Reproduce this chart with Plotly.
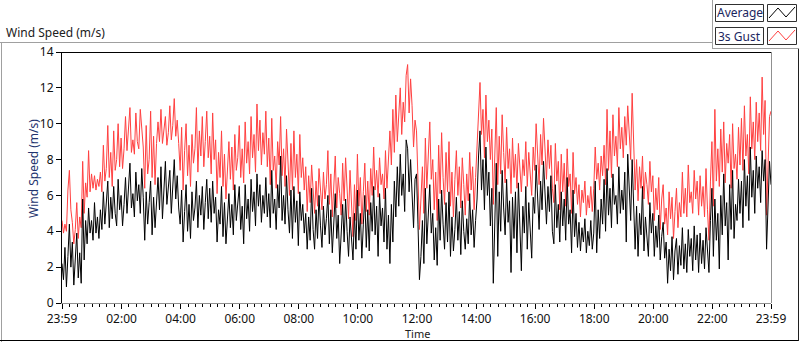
import plotly.graph_objects as go

# 3s gust (m/s), 3-minute samples starting at 23:59 (one row per hour)
gust = [
    4.6, 3.9, 4.4, 4.0, 6.3, 7.4, 5.2, 4.5, 3.3, 4.1, 5.6, 3.6, 4.8, 4.2, 7.9, 5.0, 6.7, 5.9, 8.5, 6.2,
    7.2, 6.4, 7.1, 6.3, 6.9, 6.5, 7.3, 6.2, 8.8, 6.8, 7.5, 9.9, 7.0, 8.4, 6.5, 9.6, 7.4, 8.0, 10.0, 7.6,
    9.2, 7.5, 8.6, 10.4, 8.5, 9.6, 10.9, 8.4, 9.1, 8.3, 10.6, 9.0, 8.6, 10.8, 9.4, 8.7, 6.4, 9.9, 7.2, 8.0,
    10.7, 7.0, 9.3, 6.6, 8.9, 10.1, 9.0, 10.8, 8.9, 9.6, 10.4, 8.8, 9.5, 11.0, 9.1, 9.9, 11.4, 9.3, 10.2, 8.9,
    7.4, 9.8, 6.3, 8.5, 10.0, 7.1, 8.8, 6.5, 9.4, 7.8, 8.6, 10.9, 7.3, 9.6, 8.2, 10.4, 7.6, 9.0, 10.7, 8.1,
    9.3, 7.2, 10.6, 8.0, 9.1, 6.1, 8.4, 7.0, 9.6, 6.5, 8.3, 5.8, 7.6, 9.0, 6.9, 8.7, 6.3, 9.4, 7.4, 8.1,
    9.9, 7.0, 8.6, 6.7, 10.1, 7.8, 9.0, 7.2, 10.4, 8.1, 9.4, 7.3, 11.1, 8.5, 10.2, 7.7, 9.5, 8.3, 10.7, 7.6,
    9.2, 6.6, 10.3, 7.4, 8.2, 6.4, 9.0, 7.7, 10.4, 7.1, 8.6, 6.5, 9.7, 7.3, 6.0, 8.9, 6.3, 9.6, 7.0, 8.3,
    6.1, 9.4, 7.0, 8.1, 6.3, 7.6, 5.1, 7.1, 5.6, 7.7, 6.0, 5.0, 6.8, 5.4, 7.5, 6.2, 5.2, 7.3, 5.8, 6.6,
    8.5, 5.5, 7.2, 4.8, 6.6, 8.2, 5.3, 7.0, 6.1, 4.9, 7.8, 5.7, 8.1, 6.3, 4.7, 7.4, 5.2, 3.7, 6.6, 4.6,
    8.3, 5.4, 7.0, 4.4, 6.2, 7.8, 5.1, 6.8, 4.9, 7.5, 6.0, 8.7, 6.3, 7.4, 5.9, 8.1, 6.6, 7.2, 5.8, 8.5,
    6.4, 7.8, 9.6, 7.7, 10.8, 8.4, 11.6, 9.0, 10.3, 12.0, 9.4, 11.2, 10.1, 12.7, 13.3, 10.6, 12.5, 11.0, 8.7, 10.2,
    9.6, 7.2, 4.1, 5.8, 7.6, 5.0, 9.2, 6.4, 8.5, 10.1, 6.9, 8.0, 5.2, 7.3, 4.6, 8.8, 6.1, 9.5, 7.0, 5.5,
    8.4, 6.2, 9.0, 5.4, 7.3, 4.8, 6.9, 8.5, 6.0, 7.6, 5.3, 8.1, 6.6, 4.9, 7.2, 5.7, 8.4, 6.3, 7.6, 5.2,
    7.0, 8.6, 11.0, 12.3, 9.4, 10.8, 8.1, 11.6, 9.0, 10.2, 8.0, 9.7, 5.5, 7.8, 10.9, 6.6, 9.3, 7.2, 10.5, 8.4,
    6.7, 9.8, 7.5, 8.6, 6.1, 9.2, 7.0, 8.3, 6.4, 8.9, 7.6, 6.2, 8.0, 7.1, 9.0, 6.5, 8.4, 7.3, 6.0, 8.7,
    7.4, 10.0, 8.1, 6.6, 9.4, 7.7, 10.3, 8.3, 6.9, 9.1, 7.5, 8.8, 6.4, 5.6, 8.9, 6.8, 7.9, 5.2, 8.3, 6.2,
    7.8, 5.4, 8.6, 6.5, 7.2, 5.0, 8.4, 6.1, 7.0, 5.5, 6.6, 4.8, 6.3, 5.6, 6.8, 4.9, 6.0, 5.3, 6.5, 5.1,
    6.4, 8.7, 6.9, 7.8, 6.3, 8.2, 7.1, 8.8, 6.6, 10.8, 7.4, 9.6, 7.0, 10.5, 8.2, 9.3, 7.6, 10.9, 8.6, 9.8,
    8.1, 10.4, 8.8, 11.0, 9.2, 8.0, 11.7, 9.5, 6.3, 8.0, 5.7, 7.6, 6.4, 8.2, 5.8, 7.3, 6.6, 5.5, 7.9, 6.2,
    7.1, 4.6, 6.4, 5.2, 7.0, 4.1, 5.8, 6.6, 4.4, 5.3, 3.8, 6.2, 4.7, 5.9, 3.6, 5.1, 6.4, 4.2, 5.6, 4.8,
    7.3, 5.0, 6.4, 4.8, 7.7, 5.6, 6.2, 5.0, 7.4, 5.8, 6.8, 4.9, 7.1, 5.4, 6.5, 4.8, 7.5, 5.2, 3.5, 6.8,
    9.0, 5.4, 10.8, 6.8, 8.6, 6.5, 9.7, 7.3, 10.1, 6.7, 8.9, 7.8, 9.4, 6.4, 10.0, 7.5, 8.3, 6.9, 9.8, 7.7,
    10.3, 7.4, 11.0, 8.2, 9.4, 7.2, 11.5, 8.6, 10.1, 8.0, 11.2, 9.0, 10.6, 8.5, 12.6, 9.4, 11.3, 4.9, 8.2, 10.4,
    10.7,
]

# average wind speed (m/s), same sampling
average = [
    2.2, 1.3, 3.1, 0.9, 2.6, 4.4, 2.0, 3.4, 1.0, 2.3, 3.9, 1.4, 2.8, 1.1, 5.8, 2.4, 4.6, 3.3, 5.3, 3.9,
    4.6, 3.5, 5.6, 3.9, 4.8, 3.6, 5.2, 4.1, 6.2, 4.4, 5.6, 6.8, 4.2, 5.9, 4.7, 6.5, 5.0, 4.3, 6.9, 5.2,
    6.0, 4.3, 5.5, 7.0, 5.0, 6.4, 7.8, 5.3, 6.1, 4.8, 7.3, 5.7, 6.6, 5.0, 7.5, 5.9, 3.5, 6.2, 4.4, 5.6,
    6.8, 3.8, 5.9, 4.2, 5.4, 7.0, 5.2, 7.6, 4.7, 6.3, 7.9, 5.5, 6.4, 7.4, 5.0, 6.7, 8.0, 5.8, 7.1, 5.3,
    4.4, 6.3, 3.4, 5.1, 6.6, 4.0, 5.5, 3.6, 6.2, 4.6, 5.3, 6.8, 4.2, 6.0, 4.9, 6.5, 4.1, 5.6, 6.9, 4.7,
    6.4, 4.5, 6.8, 5.0, 5.9, 3.4, 5.2, 4.4, 6.5, 3.7, 5.6, 3.3, 4.8, 6.1, 4.2, 5.5, 3.8, 6.6, 4.6, 5.4,
    6.5, 4.1, 5.4, 3.3, 6.6, 4.7, 5.8, 4.0, 6.9, 5.1, 6.2, 4.3, 7.2, 5.4, 6.6, 4.5, 6.0, 5.0, 7.0, 4.8,
    6.1, 4.2, 7.4, 5.0, 5.8, 4.1, 6.6, 5.3, 8.2, 4.6, 6.0, 4.4, 7.1, 5.2, 3.9, 6.3, 3.6, 6.5, 4.5, 5.7,
    3.2, 6.2, 4.6, 5.5, 3.9, 5.0, 3.0, 4.8, 3.5, 6.4, 4.1, 3.0, 5.2, 3.6, 6.0, 4.3, 3.1, 5.4, 3.8, 4.7,
    6.0, 3.3, 5.2, 2.8, 4.5, 6.1, 3.6, 4.9, 2.2, 4.1, 5.5, 3.4, 5.8, 4.0, 2.6, 4.8, 3.2, 2.4, 5.0, 3.0,
    6.3, 3.5, 5.0, 2.5, 4.4, 6.0, 3.1, 5.2, 2.9, 5.6, 4.0, 6.5, 3.8, 5.4, 2.6, 6.1, 4.3, 5.3, 3.4, 6.4,
    3.0, 4.9, 2.2, 5.5, 3.4, 6.8, 4.8, 7.6, 5.4, 8.3, 6.0, 7.2, 5.1, 9.1, 8.6, 6.2, 8.0, 5.8, 4.2, 6.9,
    7.2, 4.4, 1.3, 2.6, 4.6, 2.2, 6.4, 3.3, 5.5, 6.6, 3.9, 5.0, 2.4, 4.2, 2.1, 5.8, 3.5, 6.3, 4.4, 3.0,
    5.6, 3.4, 6.2, 2.6, 4.8, 2.9, 4.1, 5.9, 3.5, 5.1, 2.7, 5.7, 4.0, 3.0, 4.7, 3.3, 6.1, 3.8, 5.2, 3.1,
    4.6, 5.8, 8.2, 9.6, 6.3, 8.0, 5.2, 8.7, 6.0, 7.3, 4.3, 6.4, 1.1, 3.9, 7.8, 2.6, 6.2, 4.0, 7.4, 5.3,
    3.8, 6.9, 4.5, 5.7, 1.7, 5.9, 3.6, 6.2, 2.8, 6.7, 4.4, 1.8, 5.4, 3.9, 6.5, 3.0, 5.6, 4.3, 2.5, 5.9,
    5.0, 7.7, 5.6, 4.1, 6.8, 5.2, 7.9, 5.8, 4.4, 6.5, 5.1, 7.1, 4.0, 3.3, 6.6, 4.2, 5.5, 3.4, 6.2, 4.3,
    5.8, 3.5, 7.0, 4.4, 5.2, 2.8, 6.3, 3.7, 5.0, 3.1, 4.5, 2.9, 4.2, 3.4, 4.7, 2.8, 4.0, 3.2, 4.6, 3.0,
    3.9, 6.8, 2.8, 5.2, 3.6, 5.8, 4.4, 6.9, 4.0, 7.5, 4.9, 6.4, 4.2, 7.2, 5.5, 6.0, 4.4, 7.6, 5.0, 6.3,
    5.2, 7.3, 3.4, 8.3, 6.0, 4.6, 8.0, 5.9, 3.0, 5.4, 2.6, 5.0, 3.8, 6.5, 2.9, 4.8, 3.6, 2.6, 5.6, 3.9,
    5.0, 2.6, 4.3, 3.1, 4.9, 2.4, 3.7, 4.5, 2.5, 3.4, 1.1, 3.0, 1.8, 3.7, 1.3, 2.9, 3.6, 1.6, 3.2, 2.1,
    4.2, 1.9, 3.3, 1.7, 4.1, 2.6, 3.6, 1.8, 4.3, 2.4, 3.8, 1.7, 3.9, 2.2, 3.5, 1.9, 4.2, 2.8, 1.7, 4.6,
    6.4, 2.6, 5.8, 3.5, 5.0, 1.9, 6.0, 3.8, 7.2, 4.3, 5.6, 2.4, 6.6, 4.1, 7.4, 3.6, 5.5, 4.6, 6.9, 5.0,
    6.8, 4.2, 8.0, 5.4, 7.1, 4.6, 8.7, 5.9, 7.4, 5.0, 8.2, 6.4, 7.6, 5.6, 8.5, 6.8, 8.0, 3.0, 5.9, 7.9,
    6.6,
]

tick_vals = [0, 121, 241, 361, 481, 601, 721, 841, 961, 1081, 1201, 1321, 1440]
tick_text = ["23:59", "02:00", "04:00", "06:00", "08:00", "10:00", "12:00",
             "14:00", "16:00", "18:00", "20:00", "22:00", "23:59"]
y_ticks = [0, 2, 4, 6, 8, 10, 12, 14]

gust_t = [3 * i for i in range(len(gust))]
avg_t = [3 * i for i in range(len(average))]

W, H = 800, 342
L, R, T, B = 62, 771, 52, 303  # plot-area pixel box


def px(x):
    return (x - L) / (R - L)


def py(y):
    return (B - y) / (B - T)


FONT = "Noto Sans"
RED = "#ff4040"

fig = go.Figure()
fig.add_trace(go.Scatter(x=gust_t, y=gust, mode="lines", name="3s Gust",
                         line=dict(color=RED, width=1)))
fig.add_trace(go.Scatter(x=avg_t, y=average, mode="lines", name="Average",
                         line=dict(color="#000000", width=1)))

shapes = []


def line(x0, y0, x1, y1, color, width=1):
    shapes.append(dict(type="line", xref="paper", yref="paper",
                       x0=px(x0), y0=py(y0), x1=px(x1), y1=py(y1),
                       line=dict(color=color, width=width)))


def rect(x0, y0, x1, y1, color, width=1):
    shapes.append(dict(type="rect", xref="paper", yref="paper",
                       x0=px(x0), y0=py(y0), x1=px(x1), y1=py(y1),
                       line=dict(color=color, width=width), fillcolor="white"))


def zig(pts, color):
    d = "M " + " L ".join(f"{px(a)},{py(b)}" for a, b in pts)
    shapes.append(dict(type="path", xref="paper", yref="paper", path=d,
                       line=dict(color=color, width=1)))


# outer panel frame
line(0, 42.5, 712, 42.5, "#a0a0a0")
line(1.5, 42, 1.5, 342, "#a0a0a0")
line(0, 340.5, 799, 340.5, "#000000")
line(798.5, 48, 798.5, 341, "#202020")
# legend panel
line(712.5, 0, 712.5, 48.5, "#a0a0a0")
line(712, 48.5, 799, 48.5, "#a0a0a0")
rect(715.5, 4.5, 763.5, 21.5, "#303030")
rect(767.5, 4.5, 796.5, 21.5, "#303030")
rect(715.5, 27.5, 763.5, 44.5, "#303030")
rect(767.5, 27.5, 796.5, 44.5, "#303030")
zig([(769, 18), (778, 8), (786, 17), (795, 7)], "#000000")
zig([(769, 41), (778, 31), (786, 40), (795, 30)], RED)
# plot-area borders: top black, right gray
line(L, T + 0.5, R + 1, T + 0.5, "#000000")
line(R + 0.5, T, R + 0.5, B, "#909090")

annotations = [
    dict(text="Wind Speed (m/s)", xref="paper", yref="paper", x=px(4), y=py(32),
         xanchor="left", yanchor="middle", showarrow=False,
         font=dict(family=FONT, size=12, color="#202020")),
    dict(text="Wind Speed (m/s)", xref="paper", yref="paper", x=px(33), y=py(169),
         xanchor="center", yanchor="middle", textangle=-90, showarrow=False,
         font=dict(family=FONT, size=12, color="#22336e")),
    dict(text="Time", xref="paper", yref="paper", x=px(417), y=py(342),
         xanchor="center", yanchor="bottom", showarrow=False, borderpad=0,
         font=dict(family=FONT, size=11, color="#202020")),
    dict(text="Average", xref="paper", yref="paper", x=px(739.5), y=py(13),
         xanchor="center", yanchor="middle", showarrow=False,
         font=dict(family=FONT, size=12, color="#1a2660")),
    dict(text="3s Gust", xref="paper", yref="paper", x=px(739.5), y=py(36),
         xanchor="center", yanchor="middle", showarrow=False,
         font=dict(family=FONT, size=12, color="#1a2660")),
]

fig.update_layout(
    width=W, height=H,
    margin=dict(l=L, r=W - R, t=T, b=H - B, pad=0),
    paper_bgcolor="white", plot_bgcolor="white",
    showlegend=False,
    shapes=shapes, annotations=annotations,
    font=dict(family=FONT, size=12, color="#101010"),
)
fig.update_xaxes(
    range=[0, 1440], tickmode="array", tickvals=tick_vals, ticktext=tick_text,
    showgrid=False, zeroline=False, showline=True, linecolor="#909090", linewidth=1,
    ticks="outside", ticklen=5, tickcolor="#000000", tickwidth=1,
    minor=dict(ticks="outside", ticklen=3, tickcolor="#000000", dtick=15, tick0=1,
               showgrid=False),
    tickfont=dict(family=FONT, size=12, color="#101010"),
)
fig.update_yaxes(
    range=[0, 14], tickmode="array", tickvals=y_ticks,
    showgrid=False, zeroline=False, showline=True, linecolor="#000000", linewidth=1,
    ticks="outside", ticklen=5, tickcolor="#000000", tickwidth=1,
    tickfont=dict(family=FONT, size=12, color="#101010"),
)

fig.write_html(
    "out.html",
    config={"displayModeBar": False, "staticPlot": True},
    post_script="document.body.style.margin='0';document.body.style.padding='0';"
                "document.documentElement.style.overflow='hidden';",
)
